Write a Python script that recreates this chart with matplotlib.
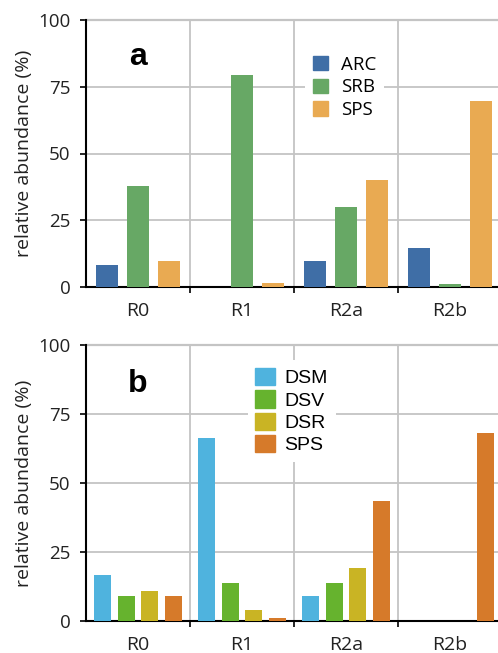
import numpy as np
import matplotlib.pyplot as plt
from matplotlib.patches import Patch

# 数据
groups = ['R0', 'R1', 'R2a', 'R2b']

names_a = ['ARC', 'SRB', 'SPS']
arc = [8.2, 0, 9.7, 14.6]
srb = [37.8, 79.4, 30.0, 1.1]
sps_a = [9.7, 1.5, 40.0, 69.7]

names_b = ['DSM', 'DSV', 'DSR', 'SPS']
dsm = [16.7, 66.4, 9.2, 0]
dsv = [9.2, 13.8, 13.8, 0]
dsr = [10.9, 3.9, 19.2, 0]
sps_b = [9.2, 1.0, 43.5, 68.2]

colors_a = ['#3f6ea6', '#67a865', '#e9aa52']
colors_b = ['#4fb3de', '#66b32e', '#c9b424', '#d67a2a']

plt.rcParams['font.family'] = ['Open Sans', 'DejaVu Sans']

fig = plt.figure(figsize=(4.98, 6.53), dpi=100)
ax_a = fig.add_axes([86 / 498, 1 - 287 / 653, 416 / 498, 267 / 653])
ax_b = fig.add_axes([86 / 498, 1 - 621 / 653, 416 / 498, 276 / 653])


def style_axes(ax):
    x = np.arange(len(groups))
    ax.set_xlim(-0.5, 3.5)
    ax.set_ylim(0, 100)
    ax.set_yticks([0, 25, 50, 75, 100])
    ax.set_xticks(x)
    ax.set_xticklabels(groups, fontsize=14, color='#222222')
    ax.set_xticks(np.arange(0.5, 3.5, 1.0), minor=True)
    ax.tick_params(axis='x', which='major', length=0, pad=11)
    ax.tick_params(axis='x', which='minor', length=4, width=1.2, direction='out')
    ax.tick_params(axis='y', length=4, width=1.2, direction='out', pad=7,
                   labelsize=13.5, labelcolor='#222222')
    ax.grid(True, which='minor', axis='x', color='#c4c4c4', lw=1.3)
    ax.grid(True, which='major', axis='y', color='#c4c4c4', lw=1.3)
    ax.axhline(100, color='#c4c4c4', lw=1.6, clip_on=False, zorder=1)
    ax.set_axisbelow(True)
    for s in ['top', 'right']:
        ax.spines[s].set_visible(False)
    ax.spines['left'].set_linewidth(1.5)
    ax.spines['bottom'].set_linewidth(1.5)
    ax.set_ylabel('relative abundance (%)', fontsize=14, color='#222222', labelpad=4)


# 图 a
x = np.arange(len(groups))
w_a = 0.21
step_a = 0.30
for i, vals in enumerate([arc, srb, sps_a]):
    ax_a.bar(x + (i - 1) * step_a, vals, width=w_a, color=colors_a[i], zorder=3)
style_axes(ax_a)
ax_a.text(0.0, 86, 'a', fontsize=23, fontweight='bold', family='Liberation Sans',
          ha='center', va='center')
handles_a = [Patch(color=c) for c in colors_a]
ax_a.legend(handles_a, names_a, loc='upper left', bbox_to_anchor=(0.505, 0.93),
            frameon=True, framealpha=1, edgecolor='none', fancybox=False,
            fontsize=13.5, handlelength=0.8, handleheight=0.8, handletextpad=0.7,
            labelspacing=0.25, borderpad=0.4)

# 图 b
w_b = 0.163
step_b = 0.228
for i, vals in enumerate([dsm, dsv, dsr, sps_b]):
    ax_b.bar(x + (i - 1.5) * step_b, vals, width=w_b, color=colors_b[i], zorder=3)
style_axes(ax_b)
ax_b.text(0.0, 86, 'b', fontsize=23, fontweight='bold', family='Liberation Sans',
          ha='center', va='center')
handles_b = [Patch(color=c) for c in colors_b]
ax_b.legend(handles_b, names_b, loc='upper left', bbox_to_anchor=(0.365, 0.98),
            frameon=True, framealpha=1, edgecolor='none', fancybox=False,
            prop={'family': 'Liberation Sans', 'size': 14},
            handlelength=1.0, handleheight=1.0, handletextpad=0.5,
            labelspacing=0.15, borderpad=0.4)

fig.savefig('out.png', dpi=100)
